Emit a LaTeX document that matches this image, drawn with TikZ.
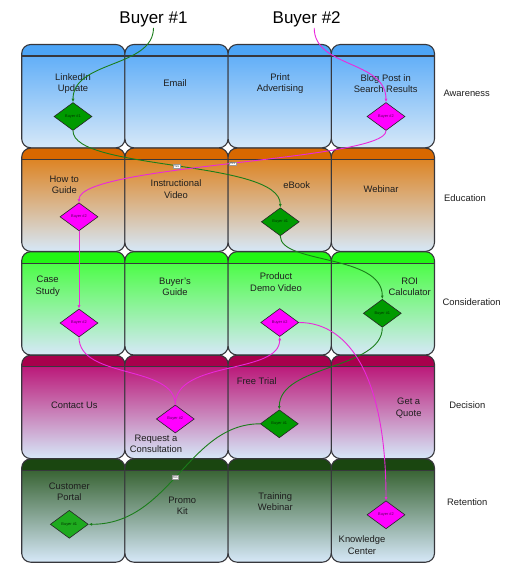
\documentclass[tikz,border=0pt]{standalone}
\usepackage{fontspec}
\setmainfont{Liberation Sans}
\usetikzlibrary{shapes.geometric,arrows.meta}
\definecolor{awtop}{RGB}{84,168,248}
\definecolor{awhdr}{RGB}{76,164,246}
\definecolor{edtop}{RGB}{222,120,10}
\definecolor{edhdr}{RGB}{216,104,0}
\definecolor{cotop}{RGB}{60,255,50}
\definecolor{cohdr}{RGB}{34,245,20}
\definecolor{detop}{RGB}{184,0,106}
\definecolor{dehdr}{RGB}{168,0,76}
\definecolor{retop}{RGB}{38,84,28}
\definecolor{rehdr}{RGB}{26,70,16}
\definecolor{cellbot}{RGB}{214,232,248}
\definecolor{gfill}{RGB}{0,154,0}
\definecolor{gfillb}{RGB}{30,170,30}
\definecolor{pfill}{RGB}{255,0,255}
\definecolor{gline}{RGB}{26,125,26}
\definecolor{pline}{RGB}{235,40,220}
\definecolor{txt}{RGB}{30,30,30}
\definecolor{cellline}{RGB}{55,55,60}
\newcommand\lanecell[5]{%
  \begin{scope}
    \clip[rounded corners=9pt] (#1,#2) rectangle ++(103.2,103.3);
    \shade[top color=#3,bottom color=#4] (#1,#2) rectangle ++(103.2,103.3);
    \fill[#5] (#1,#2) rectangle ++(103.2,11.5);
  \end{scope}
  \draw[cellborder,rounded corners=9pt] (#1,#2) rectangle ++(103.2,103.3);
  \draw[cellborder] (#1,#2+11.5) -- ++(103.2,0);
}
\newcommand\lanerow[4]{%
  \lanecell{21.7}{#1}{#2}{#3}{#4}%
  \lanecell{124.9}{#1}{#2}{#3}{#4}%
  \lanecell{228.1}{#1}{#2}{#3}{#4}%
  \lanecell{331.3}{#1}{#2}{#3}{#4}%
}
\begin{document}
\begin{tikzpicture}[x=1pt,y=-1pt,
  cellborder/.style={draw=cellline,line width=1.1pt},
  lbl/.style={font=\fontsize{9.4}{11.6}\selectfont,text=txt,align=center,inner sep=0pt},
  bigt/.style={font=\fontsize{17}{20}\selectfont,text=black,inner sep=1pt},
  dia/.style={diamond,draw=black!85,line width=0.6pt,aspect=1.36,inner sep=0pt,
    minimum width=38pt,minimum height=28pt,font=\fontsize{3.9}{4.5}\selectfont},
  gdia/.style={dia,fill=gfill,text=black!80!green},
  pdia/.style={dia,fill=pfill,text=violet!70!black},
  gcon/.style={draw=gline,line width=0.9pt},
  pcon/.style={draw=pline,line width=0.9pt},
  arr/.style={-{Latex[length=3.5pt,width=3pt]}},
  yes/.style={fill=white,draw=black!40,line width=0.3pt,inner sep=0.6pt,
    font=\fontsize{3.2}{3.5}\selectfont,text=black!70}]
\useasboundingbox (0,0) rectangle (523,575);
% lanes
\lanerow{44.5}{awtop}{cellbot}{awhdr}
\lanerow{148.1}{edtop}{cellbot}{edhdr}
\lanerow{251.7}{cotop}{cellbot}{cohdr}
\lanerow{355.3}{detop}{cellbot}{dehdr}
\lanerow{458.9}{retop}{cellbot}{rehdr}
% titles
\node[bigt] (buyer1) at (153.5,19) {Buyer \#1};
\node[bigt] (buyer2) at (306.7,19) {Buyer \#2};
% cell texts
\node[lbl] (t11) at (73,83.5) {LinkedIn\\Update};
\node[lbl] (t12) at (175,83.3) {Email};
\node[lbl] (t13) at (280,83.5) {Print\\Advertising};
\node[lbl] (t14) at (385.7,83.5) {Blog Post in\\Search Results};
\node[lbl] (t21) at (64.3,184.8) {How to\\Guide};
\node[lbl] (t22) at (176,189.3) {Instructional\\Video};
\node[lbl] (t23) at (296.7,184.7) {eBook};
\node[lbl] (t24) at (381,189.3) {Webinar};
\node[lbl] (t31) at (47.7,286.2) {Case\\Study};
\node[lbl] (t32) at (175,287) {Buyer's\\Guide};
\node[lbl] (t33) at (276,282) {Product\\Demo Video};
\node[lbl] (t34) at (409.7,286.8) {ROI\\Calculator};
\node[lbl] (t41) at (74.3,405.3) {Contact Us};
\node[lbl] (t42) at (156,443.7) {Request a\\Consultation};
\node[lbl] (t43) at (256.7,381) {Free Trial};
\node[lbl] (t44) at (408.7,408) {Get a\\Quote};
\node[lbl] (t51) at (69.3,491.8) {Customer\\Portal};
\node[lbl] (t52) at (182.3,505.8) {Promo\\Kit};
\node[lbl] (t53) at (275.3,501.7) {Training\\Webinar};
\node[lbl] (t54) at (362,545) {Knowledge\\Center};
% stage labels
\node[lbl] (s1) at (466.7,93.3) {Awareness};
\node[lbl] (s2) at (465,198) {Education};
\node[lbl] (s3) at (471.7,302.3) {Consideration};
\node[lbl] (s4) at (467.3,405.3) {Decision};
\node[lbl] (s5) at (467.3,501.7) {Retention};
% diamonds
\node[gdia] (g1) at (73,116.5) {Buyer \#1};
\node[pdia] (p1) at (386,116.5) {Buyer \#2};
\node[pdia] (p2) at (79,216.8) {Buyer \#2};
\node[gdia] (g2) at (280.3,221.8) {Buyer \#1};
\node[pdia] (p3) at (79,323) {Buyer \#2};
\node[pdia] (p4) at (279.7,322.5) {Buyer \#2};
\node[gdia] (g3) at (382.3,313.3) {Buyer \#1};
\node[pdia] (p5) at (175.3,419) {Buyer \#2};
\node[gdia] (g4) at (279.3,423.8) {Buyer \#1};
\node[gdia,fill=gfillb] (g5) at (69.3,524.3) {Buyer \#1};
\node[pdia] (p6) at (386,514.8) {Buyer \#2};
% buyer 1 path
\draw[gcon,arr] (buyer1.south) .. controls ++(0,40) and ++(0,-42) .. (g1.north);
\draw[gcon,arr] (g1.south) .. controls ++(0,40) and ++(0,-48) .. (g2.north)
  node[yes,pos=0.5] (y1) {Yes};
\draw[gcon,arr] (g2.south) .. controls ++(0,28) and ++(0,-45) .. (g3.north);
\draw[gcon,arr] (g3.south) .. controls ++(0,42) and ++(0,-45) .. (g4.north);
\draw[gcon,arr] (g4.west) .. controls ++(-72,0) and ++(82,0) .. (g5.east)
  node[yes,pos=0.52] (y3) {Yes};
% buyer 2 path
\draw[pcon,arr] ([xshift=7.5pt]buyer2.south) .. controls ++(0,40) and ++(0,-42) .. (p1.north);
\draw[pcon,arr] (p1.south) .. controls ++(0,30) and ++(0,-38) .. (p2.north)
  node[yes,pos=0.5] (y2) {Yes};
\draw[pcon,arr] (p2.south) -- (p3.north);
\draw[pcon] (p3.south) .. controls ++(0,42) and ++(0,-40) .. (p5.north);
\draw[pcon,arr] (p5.north) .. controls ++(0,-45) and ++(0,38) .. (p4.south);
\draw[pcon,arr] (p4.east) .. controls ++(52,0) and ++(0,-120) .. (p6.north);
\end{tikzpicture}
\end{document}
